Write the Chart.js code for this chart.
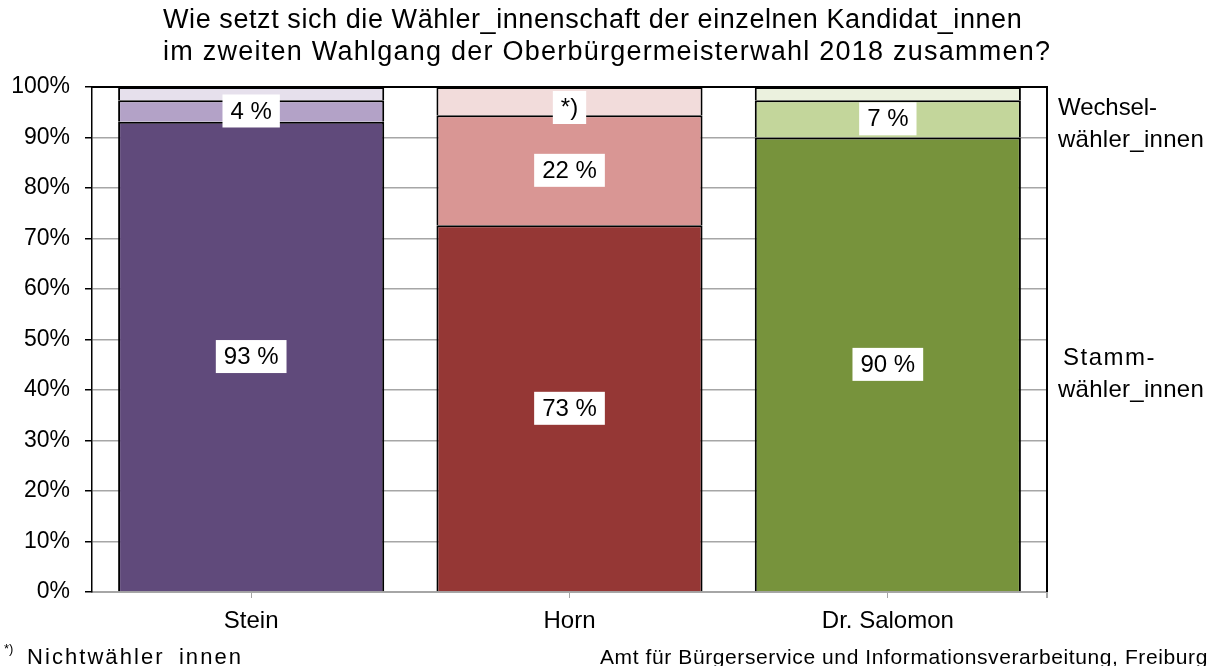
<!DOCTYPE html>
<html>
<head>
<meta charset="utf-8">
<script src="https://cdn.jsdelivr.net/npm/chart.js@4"></script>
<style>
  html, body { margin: 0; padding: 0; background: #fff; }
  #wrap { width: 1213px; height: 666px; position: relative; }
</style>
</head>
<body>
<div id="wrap"><canvas id="wahlChart" width="1213" height="666"></canvas></div>
<script>
// Kandidat_innen
var categories = ['Stein', 'Horn', 'Dr. Salomon'];

// Anteile in % (von unten nach oben)
var stammwaehler = [93.1, 72.6, 90.0];
var wechselwaehler = [4.3, 21.8, 7.4];
var nichtwaehler = [2.6, 5.6, 2.6];

// Beschriftungen in den Balken
var stammLabels = ['93 %', '73 %', '90 %'];
var wechselLabels = ['4 %', '22 %', '7 %'];
var nichtLabels = ['', '*)', ''];

var yTicks = [0, 10, 20, 30, 40, 50, 60, 70, 80, 90, 100];

var stammColors = ['#604a7b', '#953735', '#77933c'];
var wechselColors = ['#b3a2c7', '#d99694', '#c3d69b'];
var nichtColors = ['#e6e0ec', '#f2dcdb', '#ebf1de'];

var FONT = '"Liberation Sans", Arial, sans-serif';

// Text auf eine bestimmte Breite bringen (Excel-Laufweite)
function spreadText(ctx, txt, x, y, width) {
  ctx.letterSpacing = '0px';
  var w = ctx.measureText(txt).width;
  var sp = (width - w) / txt.length;
  ctx.letterSpacing = sp.toFixed(2) + 'px';
  ctx.fillText(txt, x, y);
  ctx.letterSpacing = '0px';
}

var labelPlugin = {
  id: 'boxLabels',
  afterDatasetsDraw: function(chart) {
    var ctx = chart.ctx;
    var area = chart.chartArea;
    ctx.save();
    ctx.font = '24px ' + FONT;
    ctx.textAlign = 'center';
    ctx.textBaseline = 'middle';
    chart.data.datasets.forEach(function(ds, di) {
      var meta = chart.getDatasetMeta(di);
      meta.data.forEach(function(bar, i) {
        var txt = ds.boxLabels[i];
        if (!txt) return;
        var cy = (bar.y + bar.base) / 2;
        var w = ctx.measureText(txt).width + 16;
        var h = 33;
        var top = cy - h / 2;
        if (top < area.top + 4) top = area.top + 4;
        ctx.fillStyle = '#fff';
        ctx.fillRect(bar.x - w / 2, top, w, h);
        ctx.fillStyle = '#000';
        ctx.fillText(txt, bar.x, top + h / 2 + 1);
      });
    });
    ctx.restore();
  },
  afterDraw: function(chart) {
    var ctx = chart.ctx;
    var a = chart.chartArea;
    ctx.save();
    // Rahmen oben und rechts
    ctx.strokeStyle = '#000';
    ctx.lineWidth = 2;
    ctx.beginPath();
    ctx.moveTo(a.left, a.top);
    ctx.lineTo(a.right, a.top);
    ctx.lineTo(a.right, a.bottom);
    ctx.stroke();
    ctx.strokeStyle = '#a6a6a6';
    ctx.beginPath();
    ctx.moveTo(a.right, a.bottom);
    ctx.lineTo(a.right, a.bottom + 6);
    ctx.stroke();

    // Titel
    ctx.fillStyle = '#000';
    ctx.textAlign = 'left';
    ctx.textBaseline = 'middle';
    ctx.font = '27px ' + FONT;
    spreadText(ctx, 'Wie setzt sich die Wähler_innenschaft der einzelnen Kandidat_innen', 163, 21, 859);
    spreadText(ctx, 'im zweiten Wahlgang der Oberbürgermeisterwahl 2018 zusammen?', 163, 53, 888);

    // Legende rechts
    ctx.font = '24px ' + FONT;
    spreadText(ctx, 'Wechsel-', 1058, 108, 99);
    spreadText(ctx, 'wähler_innen', 1058, 140, 146);
    spreadText(ctx, 'Stamm-', 1063, 358, 93);
    spreadText(ctx, 'wähler_innen', 1058, 390, 146);

    // Fußnote
    ctx.textBaseline = 'alphabetic';
    ctx.font = '13px ' + FONT;
    ctx.fillText('*)', 4, 653);
    ctx.font = '22px ' + FONT;
    spreadText(ctx, 'Nichtwähler_innen', 27, 664, 216);
    ctx.font = '21px ' + FONT;
    spreadText(ctx, 'Amt für Bürgerservice und Informationsverarbeitung, Freiburg', 600, 664, 608);
    ctx.restore();
  }
};

var ctx = document.getElementById('wahlChart').getContext('2d');
var chart = new Chart(ctx, {
  type: 'bar',
  data: {
    labels: categories,
    datasets: [{
      label: 'Stammwähler_innen',
      data: stammwaehler,
      backgroundColor: stammColors,
      boxLabels: stammLabels
    }, {
      label: 'Wechselwähler_innen',
      data: wechselwaehler,
      backgroundColor: wechselColors,
      boxLabels: wechselLabels
    }, {
      label: 'Nichtwähler_innen',
      data: nichtwaehler,
      backgroundColor: nichtColors,
      boxLabels: nichtLabels
    }]
  },
  options: {
    responsive: false,
    animation: false,
    datasets: {
      bar: {
        borderColor: '#000',
        borderWidth: 2,
        borderSkipped: 'start',
        categoryPercentage: 1,
        barPercentage: 0.836
      }
    },
    layout: { padding: { left: 0, top: 87, right: 166, bottom: 0 } },
    plugins: {
      legend: { display: false },
      tooltip: { enabled: false },
      title: { display: false }
    },
    scales: {
      x: {
        stacked: true,
        offset: true,
        grid: {
          offset: false,
          drawOnChartArea: false,
          color: '#a6a6a6',
          tickLength: 6
        },
        border: { color: '#a6a6a6', width: 2 },
        ticks: {
          color: '#000',
          padding: 9,
          font: { family: FONT, size: 24 }
        },
        afterFit: function(scale) { scale.height = 74; }
      },
      y: {
        stacked: true,
        min: 0,
        max: 100,
        afterBuildTicks: function(scale) {
          scale.ticks = yTicks.map(function(v) { return { value: v }; });
        },
        grid: {
          color: '#a6a6a6',
          tickColor: '#000',
          lineWidth: 1.5,
          tickLength: 7
        },
        border: { color: '#000', width: 1.5 },
        ticks: {
          color: '#000',
          padding: 15,
          font: { family: FONT, size: 23 },
          callback: function(v) { return v + '%'; }
        },
        afterFit: function(scale) { scale.width = 92; }
      }
    }
  },
  plugins: [labelPlugin]
});
</script>
</body>
</html>
